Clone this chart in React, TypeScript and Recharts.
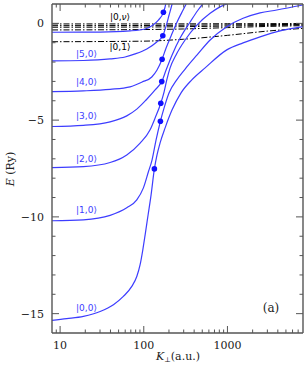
import React from 'react';
import { ComposedChart, Line, Scatter, XAxis, YAxis } from 'recharts';

const BLUE = '#3d3dff';
const DOT = '#1010ff';
const AXIS = '#555';

// |n,0> states, [K_perp (a.u.), E (Ry)]
const state00 = [[8, -15.35], [12, -15.26], [19, -15.14], [30.1, -14.89], [43.4, -14.54], [57, -14.11], [71.9, -13.59], [82.5, -13.08], [90.4, -12.47], [97.4, -11.7], [103.8, -10.93], [112.7, -9.89], [122.3, -8.86], [133.9, -7.52], [144, -6.8], [156.7, -6.18], [180, -5.4], [218, -4.47], [279, -3.59], [375, -2.92], [541, -2.3], [982, -1.37], [1538, -1.01], [2455, -0.7], [4256, -0.39], [8000, -0.17]];
const state10 = [[8, -10.2], [19, -10.15], [39.6, -9.92], [62.6, -9.53], [82.5, -9.12], [99, -8.5], [113.6, -7.67], [125.7, -7.05], [140.3, -6.02], [158, -5.06], [175, -4.37], [200.8, -3.59], [248, -2.92], [312, -2.36], [434, -1.63], [621, -0.86], [982, -0.17], [1538, 0.26], [2455, 0.54], [3888, 0.69], [8000, 0.95]];
const state20 = [[8, -7.45], [19, -7.4], [39.6, -7.19], [62.6, -6.8], [90.4, -6.19], [119, -5.5], [136.6, -4.89], [159.7, -4.13], [175, -3.54], [188.4, -2.92], [206.4, -2.3], [243, -1.63], [312, -0.86], [434, -0.08], [621, 0.52], [816, 0.85], [1128, 1.1]];
const state30 = [[8, -5.33], [19, -5.27], [39.6, -5.09], [62.6, -4.78], [83.2, -4.42], [106.6, -3.96], [136.6, -3.44], [164, -3.01], [184.8, -2.41], [218, -1.63], [272, -0.76], [358, 0.07], [446, 0.69], [541, 1.15]];
const state40 = [[8, -3.53], [19, -3.49], [39.6, -3.41], [68.6, -3.28], [95.5, -3.03], [124.7, -2.77], [144, -2.41], [165.6, -1.855], [184.8, -1.27], [212, -0.65], [250, 0.07], [295, 0.69], [330, 1.1]];
const state50 = [[8, -1.94], [19, -1.92], [39.6, -1.84], [59.8, -1.74], [78.8, -1.58], [108.7, -1.32], [143, -0.96], [168.8, -0.64], [184.8, -0.14], [200.7, 0.43], [218, 1.0], [224, 1.2]];
const state60 = [[8, -0.46], [30.1, -0.45], [68.6, -0.39], [103.8, -0.29], [129, -0.08], [149.6, 0.17], [171.6, 0.57], [183, 1.0], [186, 1.2]];

// |0,nu> states (dash-dot)
const nuA = [[8, -0.03], [100, -0.03], [1000, -0.02], [8000, -0.01]];
const nuB = [[8, -0.12], [100, -0.11], [1000, -0.08], [8000, -0.05]];
const nuC = [[8, -0.2], [100, -0.19], [1000, -0.14], [8000, -0.08]];
const nuD = [[8, -0.34], [100, -0.32], [300, -0.29], [1000, -0.22], [3000, -0.16], [8000, -0.12]];
const nu1 = [[8, -0.95], [100, -0.92], [300, -0.82], [1000, -0.62], [3000, -0.4], [8000, -0.26]];

// filled circles on the |n,0> curves
const critical = [[133.9, -7.52], [158, -5.06], [159.7, -4.13], [164, -3.01], [165.6, -1.855], [168.8, -0.64], [171.6, 0.57]];

const xTicks = [9, 10, 20, 30, 40, 50, 60, 70, 80, 90, 100, 200, 300, 400, 500, 600, 700, 800, 900, 1000, 2000, 3000, 4000, 5000, 6000, 7000];
const xMajor = [10, 100, 1000];
const yTicks = [-15, -14, -13, -12, -11, -10, -9, -8, -7, -6, -5, -4, -3, -2, -1, 0];
const yMajor = [-15, -10, -5, 0];

const pts = (arr: number[][]) => arr.map(([k, e]) => ({ k, e }));

const solid = [state00, state10, state20, state30, state40, state50, state60];
const dashed = [nuA, nuB, nuC, nuD, nu1];

const serif = '"DejaVu Serif", serif';

function xTick(side: 'bottom' | 'top') {
  return (p: any) => {
    const v = p.payload.value;
    const major = xMajor.includes(v);
    const len = major ? 7 : 3.5;
    const dir = side === 'bottom' ? -1 : 1;
    return (
      <g>
        <line x1={p.x} x2={p.x} y1={p.y} y2={p.y + dir * len} stroke={AXIS} strokeWidth={1} />
        {side === 'bottom' && major && (
          <text x={p.x} y={p.y + 16} textAnchor="middle" fontFamily={serif} fontSize={11} fill="#222">{v}</text>
        )}
      </g>
    );
  };
}

function yTick(side: 'left' | 'right') {
  return (p: any) => {
    const v = p.payload.value;
    const major = yMajor.includes(v);
    const len = major ? 7 : 3.5;
    const dir = side === 'left' ? 1 : -1;
    return (
      <g>
        <line x1={p.x} x2={p.x + dir * len} y1={p.y} y2={p.y} stroke={AXIS} strokeWidth={1} />
        {side === 'left' && major && (
          <text x={p.x - 8} y={p.y + 4} textAnchor="end" fontFamily={serif} fontSize={11} fill="#222">
            {v < 0 ? '\u2212' + Math.abs(v) : v}
          </text>
        )}
      </g>
    );
  };
}

const stateLabel = { fontFamily: '"DejaVu Sans", sans-serif', fontSize: 9, textAnchor: 'middle' as const, dominantBaseline: 'central' as const };

export default function App() {
  return (
    <div style={{ position: 'relative', width: 304, height: 368 }}>
      <style>{`body{margin:0}`}</style>
      <ComposedChart width={304} height={368} margin={{ top: 3, right: 0, bottom: 34, left: 51 }}>
        <XAxis xAxisId="b" type="number" dataKey="k" scale="log" domain={[8, 8000]} allowDataOverflow
          ticks={xTicks} interval={0} height={1} tickSize={0} tickMargin={0} tickLine={false}
          axisLine={{ stroke: AXIS, strokeWidth: 1.4 }} tick={xTick('bottom')} />
        <XAxis xAxisId="t" orientation="top" type="number" dataKey="k" scale="log" domain={[8, 8000]} allowDataOverflow
          ticks={xTicks} interval={0} height={1} tickSize={0} tickMargin={0} tickLine={false}
          axisLine={{ stroke: AXIS, strokeWidth: 1.4 }} tick={xTick('top')} />
        <YAxis yAxisId="l" type="number" dataKey="e" domain={[-16, 1]} allowDataOverflow
          ticks={yTicks} interval={0} width={1} tickSize={0} tickMargin={0} tickLine={false}
          axisLine={{ stroke: AXIS, strokeWidth: 1.4 }} tick={yTick('left')} />
        <YAxis yAxisId="r" orientation="right" type="number" dataKey="e" domain={[-16, 1]} allowDataOverflow
          ticks={yTicks} interval={0} width={1} tickSize={0} tickMargin={0} tickLine={false}
          axisLine={{ stroke: AXIS, strokeWidth: 1.4 }} tick={yTick('right')} />
        {dashed.map((d, i) => (
          <Line key={'nu' + i} xAxisId="b" yAxisId="l" data={pts(d)} dataKey="e" type="monotone"
            stroke="#000" strokeWidth={1} strokeDasharray="6 2 1.5 2" dot={false} isAnimationActive={false} />
        ))}
        {solid.map((d, i) => (
          <Line key={'n' + i} xAxisId="b" yAxisId="l" data={pts(d)} dataKey="e" type="monotone"
            stroke={BLUE} strokeWidth={1.2} dot={false} isAnimationActive={false} />
        ))}
        <Scatter xAxisId="b" yAxisId="l" data={pts(critical)} dataKey="e" isAnimationActive={false}
          shape={(p: any) => <circle cx={p.cx} cy={p.cy} r={2.8} fill={DOT} />} />
      </ComposedChart>
      <svg width={304} height={368} style={{ position: 'absolute', left: 0, top: 0, pointerEvents: 'none' }}>
        <text x={120} y={16.7} fill="#000" {...stateLabel}>|0,<tspan fontStyle="italic">ν</tspan>⟩</text>
        <text x={120} y={46.7} fill="#000" {...stateLabel}>|0,1⟩</text>
        <text x={86.5} y={54.3} fill={BLUE} {...stateLabel}>|5,0⟩</text>
        <text x={86.5} y={81.7} fill={BLUE} {...stateLabel}>|4,0⟩</text>
        <text x={86.5} y={116} fill={BLUE} {...stateLabel}>|3,0⟩</text>
        <text x={86.5} y={158.5} fill={BLUE} {...stateLabel}>|2,0⟩</text>
        <text x={86.5} y={210} fill={BLUE} {...stateLabel}>|1,0⟩</text>
        <text x={86.5} y={308} fill={BLUE} {...stateLabel}>|0,0⟩</text>
        <text x={271} y={308} textAnchor="middle" dominantBaseline="central" fontFamily={serif} fontSize={12} fill="#222">(a)</text>
        <text x={10} y={169} transform="rotate(-90 10 169)" textAnchor="middle" dominantBaseline="central" fontFamily={serif} fontSize={11} fill="#222">
          <tspan fontStyle="italic">E</tspan> (Ry)
        </text>
        <text x={178} y={360} textAnchor="middle" fontFamily={serif} fontSize={11} fill="#222">
          <tspan fontStyle="italic">K</tspan><tspan fontSize={7} dy={2}>⊥</tspan><tspan dy={-2}>(a.u.)</tspan>
        </text>
      </svg>
    </div>
  );
}
